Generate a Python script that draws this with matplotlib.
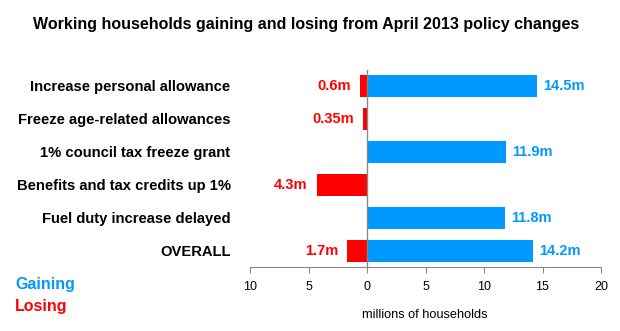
import matplotlib
matplotlib.use("Agg")
import matplotlib.pyplot as plt

plt.rcParams['font.family'] = ['Liberation Sans', 'DejaVu Sans']

categories = ["Increase personal allowance", "Freeze age-related allowances",
              "1% council tax freeze grant", "Benefits and tax credits up 1%",
              "Fuel duty increase delayed", "OVERALL"]
gaining = [14.5, 0, 11.9, 0, 11.8, 14.2]
losing = [0.6, 0.35, 0, 4.3, 0, 1.7]
gain_labels = ["14.5m", "", "11.9m", "", "11.8m", "14.2m"]
lose_labels = ["0.6m", "0.35m", "", "4.3m", "", "1.7m"]
xticks = [-10, -5, 0, 5, 10, 15, 20]
xtick_labels = ["10", "5", "0", "5", "10", "15", "20"]

BLUE = "#0099FF"
RED = "#FF0000"
GREY = "#888888"

fig = plt.figure(figsize=(6.2, 3.31), dpi=100)
ax = fig.add_axes([250/620, 1-267/331, 351/620, (267-69.5)/331])

pos = list(range(len(categories)))
ax.barh(pos, gaining, height=0.67, color=BLUE)
ax.barh(pos, [-v for v in losing], height=0.67, color=RED)

for p, v, t in zip(pos, gaining, gain_labels):
    if t:
        ax.annotate(t, (v, p), xytext=(4.5, 0), textcoords="offset points",
                    ha="left", va="center", color=BLUE, fontsize=10.5, fontweight="bold")
for p, v, t in zip(pos, losing, lose_labels):
    if t:
        ax.annotate(t, (-v, p), xytext=(-6.5, 0), textcoords="offset points",
                    ha="right", va="center", color=RED, fontsize=10.5, fontweight="bold")

ax.set_xlim(-10, 20)
ax.set_ylim(len(categories) - 0.5, -0.5)
ax.axvline(0, color=GREY, lw=1)

ax.set_xticks(xticks)
ax.set_xticklabels(xtick_labels, fontsize=9)
ax.set_yticks(pos)
ax.set_yticklabels(categories, fontsize=10.6, fontweight="bold")
ax.tick_params(axis="y", length=0, pad=14)
ax.tick_params(axis="x", length=4, color=GREY, pad=6)
for s in ["top", "right", "left"]:
    ax.spines[s].set_visible(False)
ax.spines["bottom"].set_color(GREY)

ax.set_xlabel("millions of households", fontsize=9.2)
ax.xaxis.set_label_coords((425-250)/351, -0.215)

fig.text(306/620, 1-24/331, "Working households gaining and losing from April 2013 policy changes",
         ha="center", va="center", fontsize=11.5, fontweight="bold")
fig.text(15/620, 1-285/331, "Gaining", color=BLUE, fontsize=11.5, fontweight="bold", va="center")
fig.text(15/620, 1-307/331, "Losing", color=RED, fontsize=11.5, fontweight="bold", va="center")

fig.savefig("out.png", dpi=100)
